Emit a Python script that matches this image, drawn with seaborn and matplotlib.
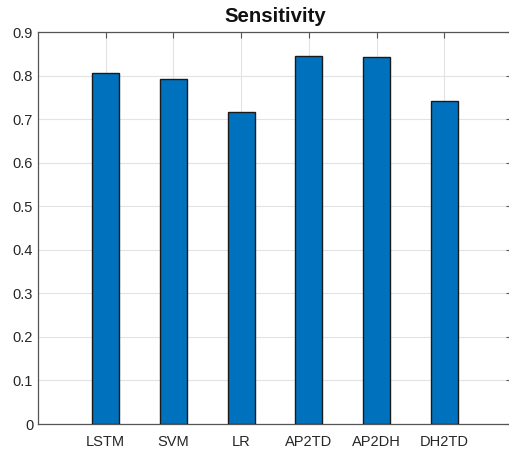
import matplotlib
matplotlib.use("Agg")
import matplotlib.pyplot as plt
import seaborn as sns
import pandas as pd

categories = ["LSTM", "SVM", "LR", "AP2TD", "AP2DH", "DH2TD"]
values = [0.806, 0.791, 0.716, 0.844, 0.842, 0.741]
yticks = [0, 0.1, 0.2, 0.3, 0.4, 0.5, 0.6, 0.7, 0.8, 0.9]

sns.set_style("white")
plt.rcParams["font.family"] = ["Liberation Sans", "DejaVu Sans"]

W, H = 509, 451
fig = plt.figure(figsize=(W / 100, H / 100), dpi=100)
left, right, top, bottom = 38, 512, 32, 424
ax = fig.add_axes([left / W, 1 - bottom / H, (right - left) / W, (bottom - top) / H])

df = pd.DataFrame({"cat": categories, "val": values})
sns.barplot(data=df, x="cat", y="val", ax=ax, color="#0072BD", saturation=1,
            width=0.4, edgecolor="#1a1a1a", linewidth=1.0, zorder=3)

ax.set_xlim(-1, 6)
ax.set_ylim(0, 0.9)
ax.set_yticks(yticks)
ax.set_yticklabels([("%g" % v) for v in yticks])
ax.set_xlabel("")
ax.set_ylabel("")
ax.grid(True, color="#e3e3e3", linewidth=0.8, zorder=0)
ax.set_axisbelow(True)
axc = "#555555"
for s in ax.spines.values():
    s.set_color(axc)
    s.set_linewidth(0.9)
ax.spines["right"].set_visible(False)
ax.tick_params(axis="both", direction="in", length=4, width=0.8, color=axc,
               labelsize=10.5, labelcolor="#262626", top=True, right=True)
ax.tick_params(axis="x", pad=8)
ax.set_title("Sensitivity", fontsize=14.7, fontweight="bold", pad=7, color="#111111")

fig.savefig("out.png", dpi=100)
